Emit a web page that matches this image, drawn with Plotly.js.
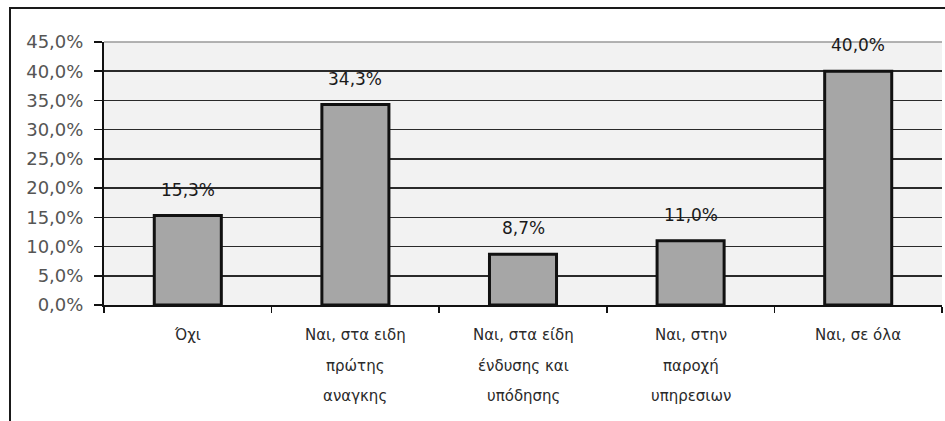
<!DOCTYPE html>
<html>
<head>
<meta charset="utf-8">
<script src="https://cdn.plot.ly/plotly-3.0.1.min.js"></script>
<style>
  html, body { margin: 0; padding: 0; background: #fff; overflow: hidden; }
  #chart { position: absolute; left: 0; top: 0; width: 945px; height: 421px; }
  #frame { position: absolute; left: 9px; top: 7px; width: 960px; height: 440px;
           border: 2px solid #1a1a1a; pointer-events: none; }
</style>
</head>
<body>
<div id="chart"></div>
<div id="frame"></div>
<script>
// ---- data ----
const categories = ["Όχι", "Ναι, στα ειδη πρώτης αναγκης", "Ναι, στα είδη ένδυσης και υπόδησης", "Ναι, στην παροχή υπηρεσιων", "Ναι, σε όλα"];
const labelLines = [
  ["Όχι"],
  ["Ναι, στα ειδη", "πρώτης", "αναγκης"],
  ["Ναι, στα είδη", "ένδυσης και", "υπόδησης"],
  ["Ναι, στην", "παροχή", "υπηρεσιων"],
  ["Ναι, σε όλα"]
];
const values = [15.3, 34.3, 8.7, 11.0, 40.0];
const yTickVals = [0, 5, 10, 15, 20, 25, 30, 35, 40, 45];
const yTickText = ["0,0%", "5,0%", "10,0%", "15,0%", "20,0%", "25,0%", "30,0%", "35,0%", "40,0%", "45,0%"];

const fmt = v => v.toFixed(1).replace('.', ',') + '%';

const trace = {
  type: 'bar',
  x: categories,
  y: values,
  marker: { color: '#a6a6a6', line: { color: '#111', width: 3 } },
  hoverinfo: 'skip'
};

const annotations = [];
values.forEach((v, i) => {
  annotations.push({
    x: categories[i], y: v, xref: 'x', yref: 'y',
    text: fmt(v), showarrow: false, yanchor: 'bottom', yshift: 14,
    font: { family: 'DejaVu Sans', size: 17, color: '#1a1a1a' }
  });
});
labelLines.forEach((lines, i) => {
  lines.forEach((t, j) => {
    annotations.push({
      x: categories[i], y: 0, xref: 'x', yref: 'paper',
      text: t, showarrow: false, yanchor: 'middle', yshift: -(30 + j * 30.5),
      font: { family: 'DejaVu Sans', size: 15, color: '#2a2a2a' }
    });
  });
});

const layout = {
  width: 945, height: 421,
  margin: { l: 104, r: 3, t: 42, b: 116 },
  paper_bgcolor: '#ffffff',
  plot_bgcolor: '#f2f2f2',
  bargap: 0.6,
  showlegend: false,
  xaxis: {
    type: 'category',
    range: [-0.5, 4.5],
    showticklabels: false,
    ticks: 'outside', tickson: 'boundaries', ticklen: 6, tickwidth: 1.5, tickcolor: '#111',
    showline: true, linecolor: '#111', linewidth: 2,
    showgrid: false, zeroline: false, fixedrange: true
  },
  yaxis: {
    range: [0, 45],
    tickvals: yTickVals, ticktext: yTickText,
    ticks: 'outside', ticklen: 8, tickwidth: 1.5, tickcolor: '#111',
    ticklabelstandoff: 7,
    tickfont: { family: 'DejaVu Sans', size: 18, color: '#555' },
    showline: true, linecolor: '#111', linewidth: 2,
    showgrid: true, gridcolor: '#2a2a2a', gridwidth: 1.5,
    zeroline: false, fixedrange: true
  },
  shapes: [{
    type: 'line', xref: 'paper', yref: 'paper', x0: 0, x1: 1, y0: 1, y1: 1,
    line: { color: '#9a9a9a', width: 1.5 }, layer: 'below'
  }],
  annotations: annotations
};

Plotly.newPlot('chart', [trace], layout, { displayModeBar: false, staticPlot: true });
</script>
</body>
</html>
